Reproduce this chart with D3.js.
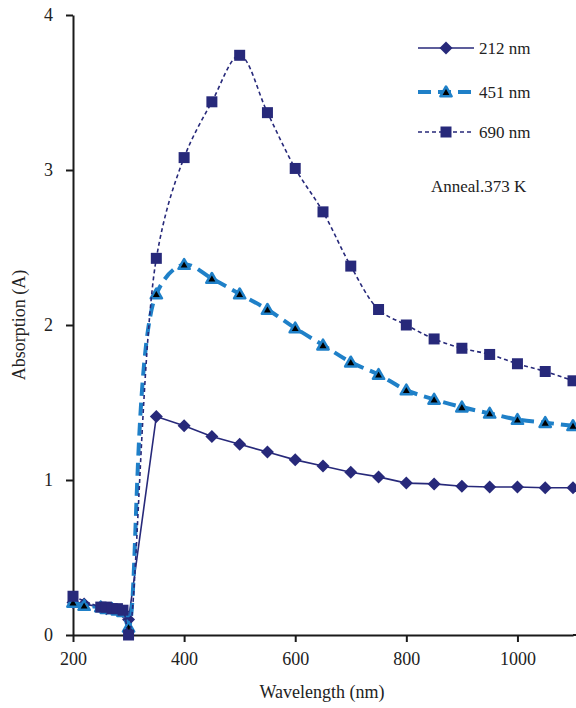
<!DOCTYPE html>
<html>
<head>
<meta charset="utf-8">
<script src="https://cdn.jsdelivr.net/npm/d3@7"></script>
<style>
  body { margin: 0; background: #fff; }
  svg { display: block; font-family: "Liberation Serif", "Times New Roman", serif; }
</style>
</head>
<body>
<div id="chart"></div>
<script>
// DATA
const wavelengths = [200, 220, 250, 260, 270, 280, 290, 300, 350, 400, 450, 500, 550, 600, 650, 700, 750, 800, 850, 900, 950, 1000, 1050, 1100];
const abs212 = [0.21, 0.20, 0.18, 0.17, 0.17, 0.16, 0.15, 0.10, 1.41, 1.35, 1.28, 1.23, 1.18, 1.13, 1.09, 1.05, 1.02, 0.98, 0.975, 0.96, 0.955, 0.955, 0.95, 0.95];
const abs451 = [0.21, 0.19, 0.18, 0.17, 0.17, 0.16, 0.15, 0.05, 2.20, 2.39, 2.30, 2.20, 2.10, 1.98, 1.87, 1.76, 1.68, 1.58, 1.52, 1.47, 1.43, 1.39, 1.37, 1.35];
const abs690 = [0.25, null, 0.18, 0.18, 0.17, 0.17, 0.16, 0.00, 2.43, 3.08, 3.44, 3.74, 3.37, 3.01, 2.73, 2.38, 2.10, 2.00, 1.91, 1.85, 1.81, 1.75, 1.70, 1.64];
const seriesNames = ["212 nm", "451 nm", "690 nm"];
const xTicks = [200, 400, 600, 800, 1000];
const yTicks = [0, 1, 2, 3, 4];

const W = 576, H = 708;
const navy = "#27297a";
const blue = "#1f80c8";

const svg = d3.select("#chart").append("svg")
    .attr("width", W)
    .attr("height", H);

const x = d3.scaleLinear().domain([200, 1100]).range([73, 573]);
const y = d3.scaleLinear().domain([0, 4]).range([635, 15]);

// axes
const xAxis = svg.append("g")
    .attr("transform", `translate(0,${y(0)})`)
    .call(d3.axisBottom(x).tickValues(xTicks).tickFormat(d3.format("d"))
        .tickSize(7).tickSizeOuter(0).tickPadding(10));
const yAxis = svg.append("g")
    .attr("transform", `translate(${x(200)},0)`)
    .call(d3.axisLeft(y).tickValues(yTicks).tickFormat(d3.format("d"))
        .tickSize(7).tickSizeOuter(0).tickPadding(13));

[xAxis, yAxis].forEach(g => {
    g.select(".domain").attr("stroke", "#1a1a1a").attr("stroke-width", 2);
    g.selectAll(".tick line").attr("stroke", "#1a1a1a").attr("stroke-width", 2);
    g.selectAll(".tick text").attr("fill", "#222").style("font-size", "18px")
        .style("font-family", "'Liberation Serif', serif");
});
// axis line runs to the right edge
xAxis.append("line").attr("x1", x(1100)).attr("x2", W).attr("stroke", "#1a1a1a").attr("stroke-width", 2);

svg.append("text")
    .attr("x", 322).attr("y", 698)
    .attr("text-anchor", "middle")
    .style("font-size", "18px").attr("fill", "#222")
    .text("Wavelength (nm)");

svg.append("text")
    .attr("transform", `translate(25,325) rotate(-90)`)
    .attr("text-anchor", "middle")
    .style("font-size", "18px").attr("fill", "#222")
    .text("Absorption (A)");

// series
function pts(vals) {
    return wavelengths.map((w, i) => ({ w: w, v: vals[i] })).filter(d => d.v !== null);
}

const smooth = d3.line()
    .x(d => x(d.w))
    .y(d => y(d.v))
    .curve(d3.curveCatmullRom.alpha(0.5));
const straight = d3.line()
    .x(d => x(d.w))
    .y(d => y(d.v));

const diamond = "M0,-6.5L6.5,0L0,6.5L-6.5,0Z";
const square = d3.symbol().type(d3.symbolSquare).size(121)();
const triangle = d3.symbol().type(d3.symbolTriangle).size(55)();

const series = [
    { name: seriesNames[0], data: pts(abs212), line: straight, stroke: navy, width: 1.6, dash: null, marker: diamond, fill: navy, mstroke: "none", mw: 0 },
    { name: seriesNames[1], data: pts(abs451), line: smooth, stroke: blue, width: 4, dash: "13,7", marker: triangle, fill: "#000", mstroke: blue, mw: 2.5 },
    { name: seriesNames[2], data: pts(abs690), line: smooth, stroke: navy, width: 1.6, dash: "4,3", marker: square, fill: navy, mstroke: "none", mw: 0 }
];

const plot = svg.append("g");
series.forEach(s => {
    const g = plot.append("g");
    g.append("path")
        .datum(s.data)
        .attr("d", s.line)
        .attr("fill", "none")
        .attr("stroke", s.stroke)
        .attr("stroke-width", s.width)
        .attr("stroke-dasharray", s.dash);
    g.selectAll("path.m")
        .data(s.data)
        .join("path")
        .attr("class", "m")
        .attr("d", s.marker)
        .attr("transform", d => `translate(${x(d.w)},${y(d.v) + (s.marker === triangle ? 1 : 0)})`)
        .attr("fill", s.fill)
        .attr("stroke", s.mstroke)
        .attr("stroke-width", s.mw)
        .attr("stroke-linejoin", "round");
});

// legend
const legend = svg.append("g");
const legY = [48, 92, 132];
series.forEach((s, i) => {
    const g = legend.append("g").attr("transform", `translate(0,${legY[i]})`);
    g.append("line")
        .attr("x1", 418).attr("x2", 474)
        .attr("stroke", s.stroke)
        .attr("stroke-width", s.width)
        .attr("stroke-dasharray", s.dash);
    g.append("path")
        .attr("d", s.marker)
        .attr("transform", `translate(446,${s.marker === triangle ? 1 : 0})`)
        .attr("fill", s.fill)
        .attr("stroke", s.mstroke)
        .attr("stroke-width", s.mw)
        .attr("stroke-linejoin", "round");
    g.append("text")
        .attr("x", 479).attr("y", 6)
        .style("font-size", "17px").attr("fill", "#222")
        .text(s.name);
});

svg.append("text")
    .attr("x", 431).attr("y", 192)
    .style("font-size", "17px").attr("fill", "#222")
    .text("Anneal.373 K");
</script>
</body>
</html>
